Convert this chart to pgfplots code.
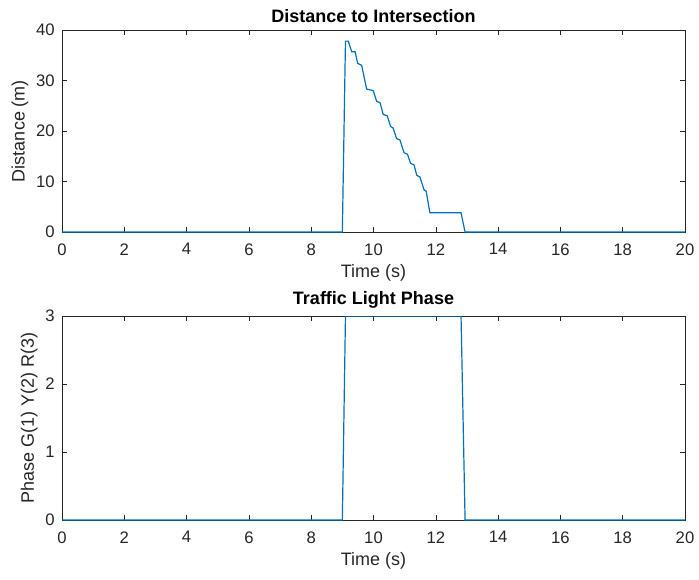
\documentclass[border=0pt]{standalone}
\usepackage{pgfplots}
\pgfplotsset{compat=1.18}
\usepackage{fontspec}
\setmainfont{Liberation Sans}
\definecolor{mblue}{rgb}{0,0.447,0.741}
\definecolor{axgray}{rgb}{0.15,0.15,0.15}
\begin{document}
\begin{tikzpicture}
\path (0,0) rectangle (524.25pt,434.25pt);
\pgfplotsset{
  every axis/.append style={
    scale only axis,
    width=467.25pt,
    xmin=0, xmax=20,
    xtick={0,2,...,20},
    tick align=inside,
    major tick length=3.75pt,
    axis line style={axgray},
    every tick/.style={axgray},
    tick label style={font=\fontsize{12.5}{14}\selectfont, text=axgray},
    xticklabel style={yshift=-5pt},
    yticklabel style={xshift=-2pt},
    label style={font=\fontsize{13.5}{15}\selectfont, text=axgray},
    title style={font=\bfseries\fontsize{13.5}{15}\selectfont, yshift=-4pt},
    /pgf/number format/assume math mode=true,
    xlabel={Time (s)},
    xlabel style={yshift=0pt},
    ylabel style={yshift=-1pt},
  }
}
\begin{axis}[
  at={(46.5pt,260.25pt)}, anchor=south west,
  height=151.5pt,
  ymin=0, ymax=40,
  ytick={0,10,...,40},
  ylabel={Distance (m)},
  title={Distance to Intersection},
]
\addplot[mblue, line width=0.9pt] coordinates {
(0,0) (9.0,0) (9.1,37.8) (9.19,37.8) (9.30,35.7) (9.41,35.7) (9.49,33.4) (9.62,33.0)
(9.78,28.3) (9.99,28.0) (10.10,25.9) (10.21,25.6) (10.31,23.3) (10.44,23.0)
(10.55,20.9) (10.63,20.6) (10.74,18.5) (10.85,18.2) (10.98,15.7) (11.09,15.4)
(11.19,13.6) (11.30,13.3) (11.39,11.2) (11.49,10.9) (11.62,8.4) (11.69,8.1)
(11.81,3.8) (12.81,3.8) (12.94,0) (20,0)
};
\end{axis}
\begin{axis}[
  at={(46.5pt,44.25pt)}, anchor=south west,
  height=153pt,
  ymin=0, ymax=3,
  ytick={0,1,2,3},
  ylabel={Phase G(1) Y(2) R(3)},
  title={Traffic Light Phase},
]
\addplot[mblue, line width=0.9pt] coordinates {
(0,0) (9.0,0) (9.1,3) (12.81,3) (12.94,0) (20,0)
};
\end{axis}
\end{tikzpicture}
\end{document}
